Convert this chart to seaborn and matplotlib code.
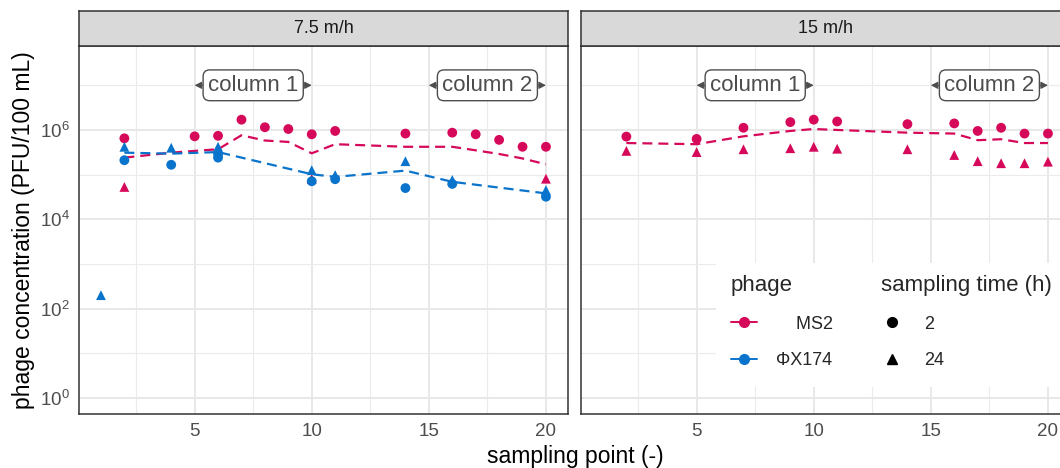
import numpy as np
import pandas as pd
import matplotlib
matplotlib.use("Agg")
import matplotlib.pyplot as plt
import seaborn as sns
from matplotlib.lines import Line2D
from matplotlib.patches import Rectangle
from matplotlib.ticker import FixedLocator, LogFormatterMathtext, NullFormatter

# ---- data ----
# 7.5 m/h
ms2_2h_x_75 = [2, 5, 6, 7, 8, 9, 10, 11, 14, 16, 17, 18, 19, 20]
ms2_2h_y_75 = [6.5e5, 7.2e5, 7.4e5, 1.7e6, 1.15e6, 1.05e6, 8.0e5, 9.5e5, 8.3e5, 8.7e5, 8.0e5, 6.0e5, 4.2e5, 4.2e5]
ms2_24h_x_75 = [2, 10, 20]
ms2_24h_y_75 = [5.3e4, 8.0e4, 8.1e4]
phx_2h_x_75 = [2, 4, 6, 6, 10, 11, 14, 16, 20]
phx_2h_y_75 = [2.1e5, 1.66e5, 2.9e5, 2.4e5, 7.1e4, 7.9e4, 5.0e4, 6.2e4, 3.2e4]
phx_24h_x_75 = [1, 2, 4, 6, 10, 11, 14, 16, 20]
phx_24h_y_75 = [200, 4.2e5, 4.0e5, 4.2e5, 1.26e5, 9.8e4, 2.0e5, 7.6e4, 4.5e4]
ms2_line_x_75 = [2, 4, 5, 6, 7, 8, 9, 10, 11, 14, 16, 17, 18, 19, 20]
ms2_line_y_75 = [2.4e5, 3.1e5, 3.4e5, 3.7e5, 7.6e5, 5.8e5, 5.4e5, 3.0e5, 4.8e5, 4.2e5, 4.2e5, 3.5e5, 2.9e5, 2.3e5, 1.7e5]
phx_line_x_75 = [2, 4, 6, 10, 11, 14, 16, 20]
phx_line_y_75 = [3.1e5, 2.95e5, 3.2e5, 1.02e5, 8.9e4, 1.23e5, 6.9e4, 3.8e4]

# 15 m/h (MS2 only)
ms2_x_15 = [2, 5, 7, 9, 10, 11, 14, 16, 17, 18, 19, 20]
ms2_2h_y_15 = [7.1e5, 6.3e5, 1.12e6, 1.5e6, 1.7e6, 1.55e6, 1.35e6, 1.4e6, 9.5e5, 1.12e6, 8.3e5, 8.3e5]
ms2_24h_y_15 = [3.4e5, 3.2e5, 3.7e5, 3.9e5, 4.2e5, 3.8e5, 3.7e5, 2.75e5, 2.0e5, 1.8e5, 1.8e5, 1.95e5]
ms2_line_y_15 = [5.1e5, 4.8e5, 7.2e5, 9.5e5, 1.05e6, 1.0e6, 8.7e5, 8.3e5, 5.9e5, 6.2e5, 5.1e5, 5.1e5]

panels = ["7.5 m/h", "15 m/h"]
phages = ["MS2", "ΦX174"]
times = ["2", "24"]
col_labels = ["column 1", "column 2"]
col_ranges = [(5, 10), (15, 20)]
label_y = 1e7

colors = {"MS2": "#D6085A", "ΦX174": "#0A74CC"}


def pts(x, y, phage, time, panel):
    return pd.DataFrame({"point": x, "conc": y, "phage": phage, "time": time, "panel": panel})


points = pd.concat([
    pts(ms2_2h_x_75, ms2_2h_y_75, "MS2", "2", panels[0]),
    pts(ms2_24h_x_75, ms2_24h_y_75, "MS2", "24", panels[0]),
    pts(phx_2h_x_75, phx_2h_y_75, "ΦX174", "2", panels[0]),
    pts(phx_24h_x_75, phx_24h_y_75, "ΦX174", "24", panels[0]),
    pts(ms2_x_15, ms2_2h_y_15, "MS2", "2", panels[1]),
    pts(ms2_x_15, ms2_24h_y_15, "MS2", "24", panels[1]),
], ignore_index=True)

lines = pd.concat([
    pts(ms2_line_x_75, ms2_line_y_75, "MS2", "", panels[0]),
    pts(phx_line_x_75, phx_line_y_75, "ΦX174", "", panels[0]),
    pts(ms2_x_15, ms2_line_y_15, "MS2", "", panels[1]),
], ignore_index=True)

# ---- style ----
sns.set_theme(style="white")
plt.rcParams["font.family"] = ["Liberation Sans", "DejaVu Sans"]
plt.rcParams["mathtext.default"] = "regular"

W, H = 1060, 468
fig = plt.figure(figsize=(W / 100, H / 100), dpi=100)

ax_left = [78.7, 580.7]
ax_w = 489.5
ax_top, ax_bot = 46, 414
strip_top = 11

for i, panel in enumerate(panels):
    ax = fig.add_axes([ax_left[i] / W, (H - ax_bot) / H, ax_w / W, (ax_bot - ax_top) / H])
    sub_l = lines[lines.panel == panel]
    sub_p = points[points.panel == panel]
    sns.lineplot(data=sub_l, x="point", y="conc", hue="phage", palette=colors,
                 ax=ax, legend=False, lw=1.6, ls=(0, (4.5, 2.7)), zorder=3)
    sns.scatterplot(data=sub_p, x="point", y="conc", hue="phage", style="time",
                    markers={"2": "o", "24": "^"}, palette=colors, s=50,
                    linewidth=0, ax=ax, legend=False, zorder=4)
    ax.set_yscale("log")
    ax.set_xlim(0.05, 20.95)
    ax.set_ylim(10 ** -0.36, 10 ** 7.88)
    ax.xaxis.set_major_locator(FixedLocator([5, 10, 15, 20]))
    ax.xaxis.set_minor_locator(FixedLocator([2.5, 7.5, 12.5, 17.5]))
    ax.yaxis.set_major_locator(FixedLocator([1, 1e2, 1e4, 1e6]))
    ax.yaxis.set_minor_locator(FixedLocator([10, 1e3, 1e5, 1e7]))
    ax.yaxis.set_major_formatter(LogFormatterMathtext())
    ax.yaxis.set_minor_formatter(NullFormatter())
    ax.xaxis.set_minor_formatter(NullFormatter())
    ax.grid(which="major", color="#E8E8E8", lw=1.4, zorder=0)
    ax.grid(which="minor", color="#EBEBEB", lw=0.8, zorder=0)
    ax.set_axisbelow(True)
    ax.tick_params(which="major", axis="x", length=3.5, width=1, color="#333333",
                   labelsize=13.5, labelcolor="#4D4D4D", pad=3)
    ax.tick_params(which="minor", length=0)
    if i == 0:
        ax.tick_params(which="major", axis="y", length=3.5, width=1, color="#333333",
                       labelsize=13.5, labelcolor="#4D4D4D", pad=3)
    else:
        ax.tick_params(which="major", axis="y", length=0, labelleft=False)
    ax.set_xlabel("")
    ax.set_ylabel("")
    for sp in ax.spines.values():
        sp.set_color("#333333")
        sp.set_linewidth(1.1)

    # column annotations
    for lab, (x0, x1) in zip(col_labels, col_ranges):
        ax.annotate("", xy=(x0, label_y), xytext=(x1, label_y),
                    arrowprops=dict(arrowstyle="<|-|>,head_length=0.35,head_width=0.18",
                                    color="#4D4D4D", lw=0.8, shrinkA=0, shrinkB=0),
                    zorder=5)
        ax.text((x0 + x1) / 2, label_y, lab, ha="center", va="center", fontsize=16,
                color="#4D4D4D", zorder=6,
                bbox=dict(boxstyle="round,pad=0.22,rounding_size=0.3", fc="white",
                          ec="#4D4D4D", lw=1.0))

    # strip
    sax = fig.add_axes([ax_left[i] / W, (H - ax_top) / H, ax_w / W, (ax_top - strip_top) / H])
    sax.set_facecolor("#D9D9D9")
    sax.set_xticks([])
    sax.set_yticks([])
    for sp in sax.spines.values():
        sp.set_color("#333333")
        sp.set_linewidth(1.1)
    sax.text(0.5, 0.5, panel, ha="center", va="center", fontsize=13,
             color="#1A1A1A", transform=sax.transAxes)

    if i == 1:
        # legend background
        ax.add_patch(Rectangle((716 / W, (H - 387) / H), 400 / W, 124 / H,
                               transform=fig.transFigure, fc="white", ec="none",
                               zorder=7, clip_on=False))
        h_phage = [Line2D([], [], color=colors[p], marker="o", ls="-", lw=1.4, markersize=7)
                   for p in phages]
        leg1 = fig.legend(h_phage, ["    MS2", "ΦX174"], title="phage",
                          loc="upper left", bbox_to_anchor=(722 / W, (H - 266) / H),
                          frameon=False, fontsize=13, title_fontsize=16,
                          handlelength=1.45, handletextpad=1.05, labelspacing=1.08,
                          borderpad=0, alignment="left")
        h_time = [Line2D([], [], color="black", marker=m, ls="none", markersize=7)
                  for m in ["o", "^"]]
        leg2 = fig.legend(h_time, times, title="sampling time (h)",
                          loc="upper left", bbox_to_anchor=(872 / W, (H - 266) / H),
                          frameon=False, fontsize=13, title_fontsize=16,
                          handlelength=1.2, handletextpad=1.2, labelspacing=1.08,
                          borderpad=0, alignment="left")
        leg1.set_zorder(8)
        leg2.set_zorder(8)

fig.text(24 / W, (H - 230) / H, "phage concentration (PFU/100 mL)", rotation=90,
         ha="center", va="center", fontsize=16.5, color="black")
fig.text(575 / W, (H - 457) / H, "sampling point (-)", ha="center", va="center",
         fontsize=16.5, color="black")

fig.savefig("out.png", dpi=100)
